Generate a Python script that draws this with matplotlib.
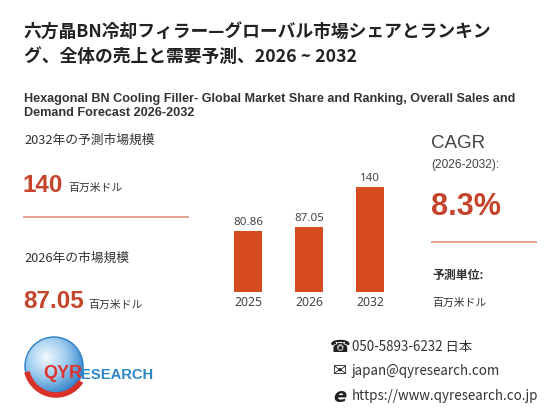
import numpy as np
import matplotlib
matplotlib.use('Agg')
import matplotlib.pyplot as plt
from matplotlib.patches import Circle, Arc
from matplotlib.colors import LinearSegmentedColormap

# DATA
years = ['2025', '2026', '2032']
sales = [80.86, 87.05, 140]
cagr = '8.3%'
unit = '百万米ドル'
title_ja = '六方晶BN冷却フィラー—グローバル市場シェアとランキン\nグ、全体の売上と需要予測、2026 ~ 2032'
title_en = 'Hexagonal BN Cooling Filler- Global Market Share and Ranking, Overall Sales and\nDemand Forecast 2026-2032'
contacts = ['050-5893-6232 日本', 'japan@qyresearch.com', 'https://www.qyresearch.co.jp']

JP = ['Noto Sans CJK JP', 'DejaVu Sans']
LAT = ['Liberation Sans', 'DejaVu Sans']
RED = '#c4452b'
BAR = '#d64b20'
GREY = '#333333'
LINE = '#e3a08c'

fig = plt.figure(figsize=(5.6, 4.2), dpi=100)

# overlay in pixel coordinates
ax0 = fig.add_axes([0, 0, 1, 1])
ax0.set_xlim(0, 560)
ax0.set_ylim(420, 0)
ax0.axis('off')

# titles
ax0.text(24, 44, title_ja, family=JP, fontsize=12.8, fontweight='bold', color='#222222',
         va='center', ha='left', linespacing=1.5)
ax0.text(24, 106, title_en, family=LAT, fontsize=9.1, fontweight='bold', color='#333333',
         va='center', ha='left', linespacing=1.3)

# left panel
ax0.text(24, 140, '2032年の予測市場規模', family=JP, fontsize=9.2, color=GREY, va='center')
ax0.text(23, 186, '%g' % sales[2], family=LAT, fontsize=17.5, fontweight='bold', color=RED, va='center')
ax0.text(68, 188, unit, family=JP, fontsize=7.8, color=GREY, va='center')
ax0.plot([24, 188], [217, 217], color=LINE, lw=1.4)
ax0.text(24, 258, '2026年の市場規模', family=JP, fontsize=9.2, color=GREY, va='center')
ax0.text(23, 302, '%.2f' % sales[1], family=LAT, fontsize=17.5, fontweight='bold', color=RED, va='center')
ax0.text(88, 305, unit, family=JP, fontsize=7.8, color=GREY, va='center')

# right panel
ax0.text(431, 143, 'CAGR', family=LAT, fontsize=13.5, color='#444444', va='center')
ax0.text(431, 165, '(2026-2032):', family=LAT, fontsize=8.6, color='#444444', va='center')
ax0.text(431, 207, cagr, family=LAT, fontsize=22, fontweight='bold', color=RED, va='center')
ax0.plot([432, 536], [242, 242], color=LINE, lw=1.4)
ax0.text(432, 275, '予測単位:', family=JP, fontsize=8.6, fontweight='bold', color=GREY, va='center')
ax0.text(432, 303, unit, family=JP, fontsize=7.8, color=GREY, va='center')

# contacts
icons = ['\u260e', '\u2709', 'e']
for i, (ic, txt) in enumerate(zip(icons, contacts)):
    y = 347 + i * 24.5
    if ic == 'e':
        ax0.text(340, y, ic, family=['DejaVu Sans'], fontsize=14, fontweight='bold',
                 fontstyle='italic', color='#222222', va='center', ha='center')
    else:
        ax0.text(340, y, ic, family=['DejaVu Sans'], fontsize=12, color='#222222',
                 va='center', ha='center')
    ax0.text(352, y, txt, family=JP, fontsize=9.6, color=GREY, va='center')

# logo: gradient globe
gx, gy, gr = 54, 366, 29
n = 200
xx, yy = np.meshgrid(np.linspace(-1, 1, n), np.linspace(-1, 1, n))
rr = np.sqrt((xx + 0.25) ** 2 + (yy + 0.3) ** 2)
grad = np.clip(rr / 1.4, 0, 1)
cmap = LinearSegmentedColormap.from_list('g', ['#f2f8fd', '#9ccbee', '#2a7cc8'])
im = ax0.imshow(grad, cmap=cmap, extent=(gx - gr, gx + gr, gy + gr, gy - gr), zorder=2)
clip = Circle((gx, gy), gr, transform=ax0.transData)
im.set_clip_path(clip)
ax0.add_patch(Circle((gx, gy), gr, fill=False, ec='#2a7fc9', lw=1.0, zorder=3))
ax0.add_patch(Arc((gx + 2, gy - 2), 60, 62, theta1=35, theta2=165, color='#d9302a', lw=4, zorder=4))
ax0.text(43, 374, 'QYR', family=LAT, fontsize=13, fontweight='bold', color='#e0332b',
         va='center', zorder=5)
ax0.text(81, 375, 'ESEARCH', family=LAT, fontsize=10.6, fontweight='bold', color='#2a86c8',
         va='center', zorder=5)

# bar chart
ax = fig.add_axes([217.5 / 560, (420 - 292) / 420, 183 / 560, 120 / 420])
x = np.arange(len(years))
bars = ax.bar(x, sales, width=0.46, color=BAR)
ax.set_xlim(-0.5, 2.5)
ax.set_ylim(0, 160)
for b, v in zip(bars, sales):
    ax.text(b.get_x() + b.get_width() / 2, v + 4, '%g' % v, ha='center', va='bottom',
            family=['Noto Sans', 'DejaVu Sans'], fontsize=8.3, color='#444444')
ax.set_xticks(x)
ax.set_xticklabels(years, family=['Noto Sans', 'DejaVu Sans'], fontsize=8.8, color='#444444')
ax.tick_params(axis='x', length=0, pad=3)
ax.set_yticks([])
for s in ax.spines.values():
    s.set_visible(False)
ax.patch.set_alpha(0)

fig.savefig('out.png', dpi=100)
